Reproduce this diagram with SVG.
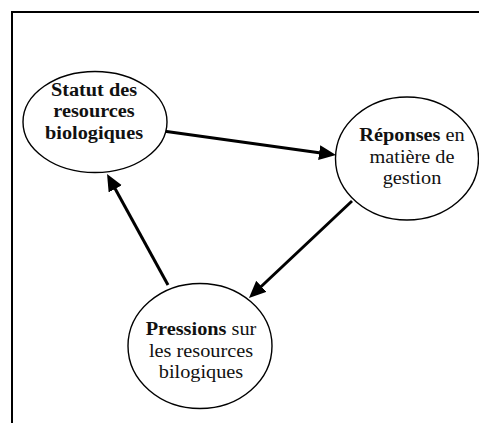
<svg xmlns="http://www.w3.org/2000/svg" width="479" height="423" viewBox="0 0 479 423">
  <style>
    .node ellipse { fill: #ffffff; stroke: #000000; stroke-width: 1.4; }
    .node text { font-family: "Liberation Serif", "Times New Roman", serif; font-size: 18.7px; fill: #111111; text-anchor: middle; }
    .b { font-weight: bold; }
    .conn { stroke: #000000; stroke-width: 3; fill: none; }
  </style>
  <defs>
    <marker id="arr" markerUnits="userSpaceOnUse" markerWidth="18" markerHeight="16" refX="9" refY="7.5" orient="auto">
      <path d="M0,0 L17,7.5 L0,15 z" fill="#000000"/>
    </marker>
  </defs>
  <rect width="479" height="423" fill="#ffffff"/>
  <path id="frame" d="M12,423 V12 H479" fill="none" stroke="#000000" stroke-width="2"/>

  <g id="connectors">
    <path class="conn" d="M163,131 L328.1,153.9" marker-end="url(#arr)"/>
    <path class="conn" d="M352,201 L254.8,292.5" marker-end="url(#arr)"/>
    <path class="conn" d="M168,285 L110.9,181" marker-end="url(#arr)"/>
  </g>

  <g id="node-statut" class="node">
    <ellipse cx="95" cy="122" rx="72" ry="50.5"/>
    <g transform="translate(94 0) scale(1.085 1)">
      <text x="0" y="96" class="b">Statut des</text>
      <text x="0" y="117.5" class="b">resources</text>
      <text x="0" y="139" class="b">biologiques</text>
    </g>
  </g>

  <g id="node-reponses" class="node">
    <ellipse cx="407" cy="158.5" rx="71.5" ry="61.5"/>
    <g transform="translate(412 0) scale(1.085 1)">
      <text x="0" y="141"><tspan class="b">Réponses</tspan> en</text>
      <text x="0" y="163">matière de</text>
      <text x="0" y="184.5">gestion</text>
    </g>
  </g>

  <g id="node-pressions" class="node">
    <ellipse cx="200" cy="346" rx="72" ry="62.5"/>
    <g transform="translate(201 0) scale(1.085 1)">
      <text x="0" y="335"><tspan class="b">Pressions</tspan> sur</text>
      <text x="0" y="357">les resources</text>
      <text x="0" y="378.5">bilogiques</text>
    </g>
  </g>
</svg>
